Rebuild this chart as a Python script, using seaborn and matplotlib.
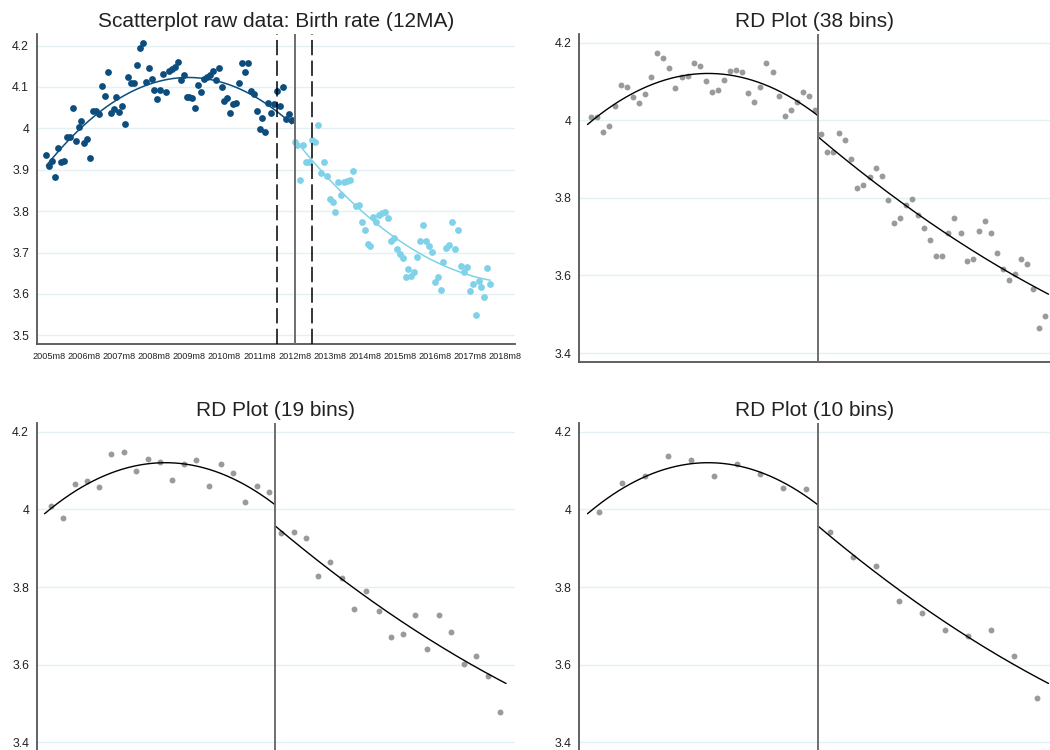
import numpy as np
import pandas as pd
import matplotlib
matplotlib.use("Agg")
import matplotlib.pyplot as plt
import seaborn as sns

sns.set_style("white")
plt.rcParams["font.family"] = ["Liberation Sans", "DejaVu Sans"]

# ---- Monthly birth rate (12-month moving average) ----
# Stata monthly dates: 546 = 2005m7 ... 630 = 2012m7 (before cutoff), 631 = 2012m8 onwards
birth_pre = [
    3.936, 3.910, 3.922, 3.882, 3.952, 3.919, 3.922, 3.980, 3.980, 4.050,
    3.970, 4.004, 4.017, 3.964, 3.974, 3.928, 4.042, 4.042, 4.035, 4.103,
    4.079, 4.136, 4.036, 4.046, 4.075, 4.039, 4.053, 4.011, 4.123, 4.109,
    4.109, 4.153, 4.194, 4.207, 4.113, 4.147, 4.120, 4.093, 4.072, 4.092,
    4.132, 4.088, 4.138, 4.144, 4.148, 4.161, 4.117, 4.130, 4.075, 4.075,
    4.073, 4.050, 4.105, 4.087, 4.120, 4.123, 4.130, 4.139, 4.117, 4.147,
    4.099, 4.067, 4.073, 4.036, 4.059, 4.062, 4.109, 4.159, 4.135, 4.159,
    4.091, 4.082, 4.043, 3.999, 4.025, 3.992, 4.062, 4.038, 4.059, 4.091,
    4.053, 4.101, 4.023, 4.034, 4.019,
]
birth_post = [
    3.967, 3.960, 3.875, 3.960, 3.918, 3.918, 3.972, 3.966, 4.007, 3.893,
    3.919, 3.884, 3.830, 3.822, 3.798, 3.870, 3.838, 3.870, 3.873, 3.876,
    3.897, 3.813, 3.815, 3.773, 3.755, 3.720, 3.716, 3.785, 3.773, 3.791,
    3.795, 3.799, 3.784, 3.727, 3.735, 3.708, 3.697, 3.688, 3.640, 3.660,
    3.644, 3.654, 3.690, 3.727, 3.767, 3.729, 3.717, 3.702, 3.630, 3.642,
    3.610, 3.676, 3.710, 3.719, 3.774, 3.708, 3.754, 3.668, 3.652, 3.664,
    3.607, 3.625, 3.550, 3.631, 3.616, 3.592, 3.662, 3.624,
]
first_month = 546          # 2005m7
cutoff_month = 631         # 2012m8
window_months = [625, 637]  # 2012m2, 2013m2

month_ticks = [547, 559, 571, 583, 595, 607, 619, 631, 643, 655, 667, 679, 691, 703]
month_labels = ["2005m8", "2006m8", "2007m8", "2008m8", "2009m8", "2010m8", "2011m8",
                "2012m8", "2013m8", "2014m8", "2015m8", "2016m8", "2017m8", "2018m8"]
raw_yticks = [3.5, 3.6, 3.7, 3.8, 3.9, 4.0, 4.1, 4.2]
raw_ylabels = ["3.5", "3.6", "3.7", "3.8", "3.9", "4", "4.1", "4.2"]

# ---- Binned means for the RD plots (left / right of the cutoff) ----
rd38_left = [4.009, 4.008, 3.970, 3.984, 4.037, 4.091, 4.086, 4.060, 4.045, 4.067,
             4.110, 4.174, 4.161, 4.134, 4.083, 4.112, 4.114, 4.146, 4.139, 4.102,
             4.073, 4.078, 4.104, 4.127, 4.128, 4.123, 4.069, 4.046, 4.086, 4.146,
             4.124, 4.063, 4.011, 4.026, 4.048, 4.072, 4.062, 4.026]
rd38_right = [3.963, 3.917, 3.917, 3.968, 3.950, 3.901, 3.826, 3.833, 3.854, 3.877,
              3.855, 3.794, 3.736, 3.749, 3.781, 3.797, 3.755, 3.721, 3.692, 3.649,
              3.649, 3.709, 3.747, 3.709, 3.636, 3.642, 3.715, 3.740, 3.710, 3.658,
              3.616, 3.589, 3.603, 3.642, 3.630, 3.564, 3.465, 3.495]
rd19_left = [4.010, 3.977, 4.065, 4.074, 4.057, 4.142, 4.148, 4.098, 4.130, 4.121,
             4.076, 4.116, 4.127, 4.059, 4.117, 4.094, 4.019, 4.061, 4.045]
rd19_right = [3.940, 3.943, 3.926, 3.829, 3.865, 3.824, 3.743, 3.789, 3.738, 3.670,
              3.679, 3.729, 3.639, 3.728, 3.684, 3.602, 3.622, 3.571, 3.479]
rd10_left = [3.994, 4.068, 4.085, 4.137, 4.128, 4.086, 4.118, 4.091, 4.055, 4.053]
rd10_right = [3.941, 3.877, 3.854, 3.763, 3.733, 3.688, 3.674, 3.688, 3.621, 3.513]

rd_yticks = [3.4, 3.6, 3.8, 4.0, 4.2]
rd_ylabels = ["3.4", "3.6", "3.8", "4", "4.2"]

# ---- Style ----
DARK = "#0d4d7d"
LIGHT = "#7fd2e8"
GREY_PT = "#9a9a9a"
GRID = "#e3f1f5"
SPINE = "#555555"
TXT = "#222222"
TITLE_SIZE = 15


def style_axes(ax, yticks, ylabels):
    for s in ("top", "right"):
        ax.spines[s].set_visible(False)
    for s in ("left", "bottom"):
        ax.spines[s].set_color(SPINE)
        ax.spines[s].set_linewidth(1.3)
    ax.set_yticks(yticks)
    ax.set_yticklabels(ylabels)
    ax.tick_params(axis="y", direction="out", length=3.5, width=1.0, color=SPINE,
                   labelsize=8.8, labelcolor=TXT, pad=2)
    ax.grid(axis="y", color=GRID, linewidth=1.0)
    ax.grid(axis="x", visible=False)
    ax.set_axisbelow(True)
    ax.set_xlabel("")
    ax.set_ylabel("")


fig = plt.figure(figsize=(10.5, 7.5), dpi=100)

# ---- Panel 1: raw monthly data ----
ax1 = fig.add_axes([0.0350, 0.5413, 0.4555, 0.4134])
pre_df = pd.DataFrame({"month": np.arange(first_month, first_month + len(birth_pre)),
                       "rate": birth_pre})
post_df = pd.DataFrame({"month": np.arange(cutoff_month, cutoff_month + len(birth_post)),
                        "rate": birth_post})
sns.scatterplot(data=pre_df, x="month", y="rate", color=DARK, s=24, linewidth=0, ax=ax1, zorder=3)
sns.scatterplot(data=post_df, x="month", y="rate", color=LIGHT, s=24, linewidth=0, ax=ax1, zorder=3)
sns.regplot(data=pre_df, x="month", y="rate", order=2, scatter=False, ci=None,
            line_kws=dict(color=DARK, linewidth=1.1, zorder=4), ax=ax1)
sns.regplot(data=post_df, x="month", y="rate", order=2, scatter=False, ci=None,
            line_kws=dict(color=LIGHT, linewidth=1.1, zorder=4), ax=ax1)
for wm in window_months:
    ax1.axvline(wm, color="black", linewidth=1.1, linestyle=(0, (10, 3.5)), zorder=5)
ax1.axvline(cutoff_month, color="#6e6e6e", linewidth=1.4, zorder=5)
style_axes(ax1, raw_yticks, raw_ylabels)
ax1.set_xticks(month_ticks)
ax1.set_xticklabels(month_labels)
ax1.tick_params(axis="x", direction="out", length=4, width=1.0, color=SPINE,
                labelsize=6.6, labelcolor=TXT, pad=2)
ax1.set_xlim(542.7, 706.5)
ax1.set_ylim(3.479, 4.228)
ax1.set_title("Scatterplot raw data: Birth rate (12MA)", fontsize=TITLE_SIZE, color=TXT, pad=5)

# ---- Global quadratic fit on each side of the cutoff (from the finest binning) ----
def bin_centers(n, side):
    c = (np.arange(n) + 0.5) / n
    return c - 1.0 if side == "left" else c


fit_left = np.polyfit(bin_centers(len(rd38_left), "left"), rd38_left, 2)
fit_right = np.polyfit(bin_centers(len(rd38_right), "right"), rd38_right, 2)
grid_left = np.linspace(-1.0, 0.0, 200)
grid_right = np.linspace(0.0, 1.0, 200)
curve_left = pd.DataFrame({"x": grid_left, "y": np.polyval(fit_left, grid_left)})
curve_right = pd.DataFrame({"x": grid_right, "y": np.polyval(fit_right, grid_right)})

rd_panels = [
    ([0.5517, 0.5169, 0.4483, 0.4378], (-1.0356, 1.0065), rd38_left, rd38_right, "RD Plot (38 bins)"),
    ([0.0350, -0.0021, 0.4555, 0.4378], (-1.034, 1.039), rd19_left, rd19_right, "RD Plot (19 bins)"),
    ([0.5517, -0.0021, 0.4483, 0.4378], (-1.0356, 1.0065), rd10_left, rd10_right, "RD Plot (10 bins)"),
]

for rect, xlim, left_vals, right_vals, title in rd_panels:
    ax = fig.add_axes(rect)
    bins = pd.DataFrame({
        "x": np.concatenate([bin_centers(len(left_vals), "left"),
                             bin_centers(len(right_vals), "right")]),
        "y": list(left_vals) + list(right_vals),
    })
    sns.scatterplot(data=bins, x="x", y="y", color=GREY_PT, s=18, linewidth=0, ax=ax,
                    zorder=3, clip_on=False)
    sns.lineplot(data=curve_left, x="x", y="y", color="black", linewidth=1.0, ax=ax, zorder=4)
    sns.lineplot(data=curve_right, x="x", y="y", color="black", linewidth=1.0, ax=ax, zorder=4)
    ax.axvline(0.0, color="#6e6e6e", linewidth=1.4, zorder=5)
    style_axes(ax, rd_yticks, rd_ylabels)
    ax.set_xticks([])
    ax.set_xlim(*xlim)
    ax.set_ylim(3.376, 4.222)
    ax.set_title(title, fontsize=TITLE_SIZE, color=TXT, pad=5)

fig.savefig("out.png", dpi=100)
